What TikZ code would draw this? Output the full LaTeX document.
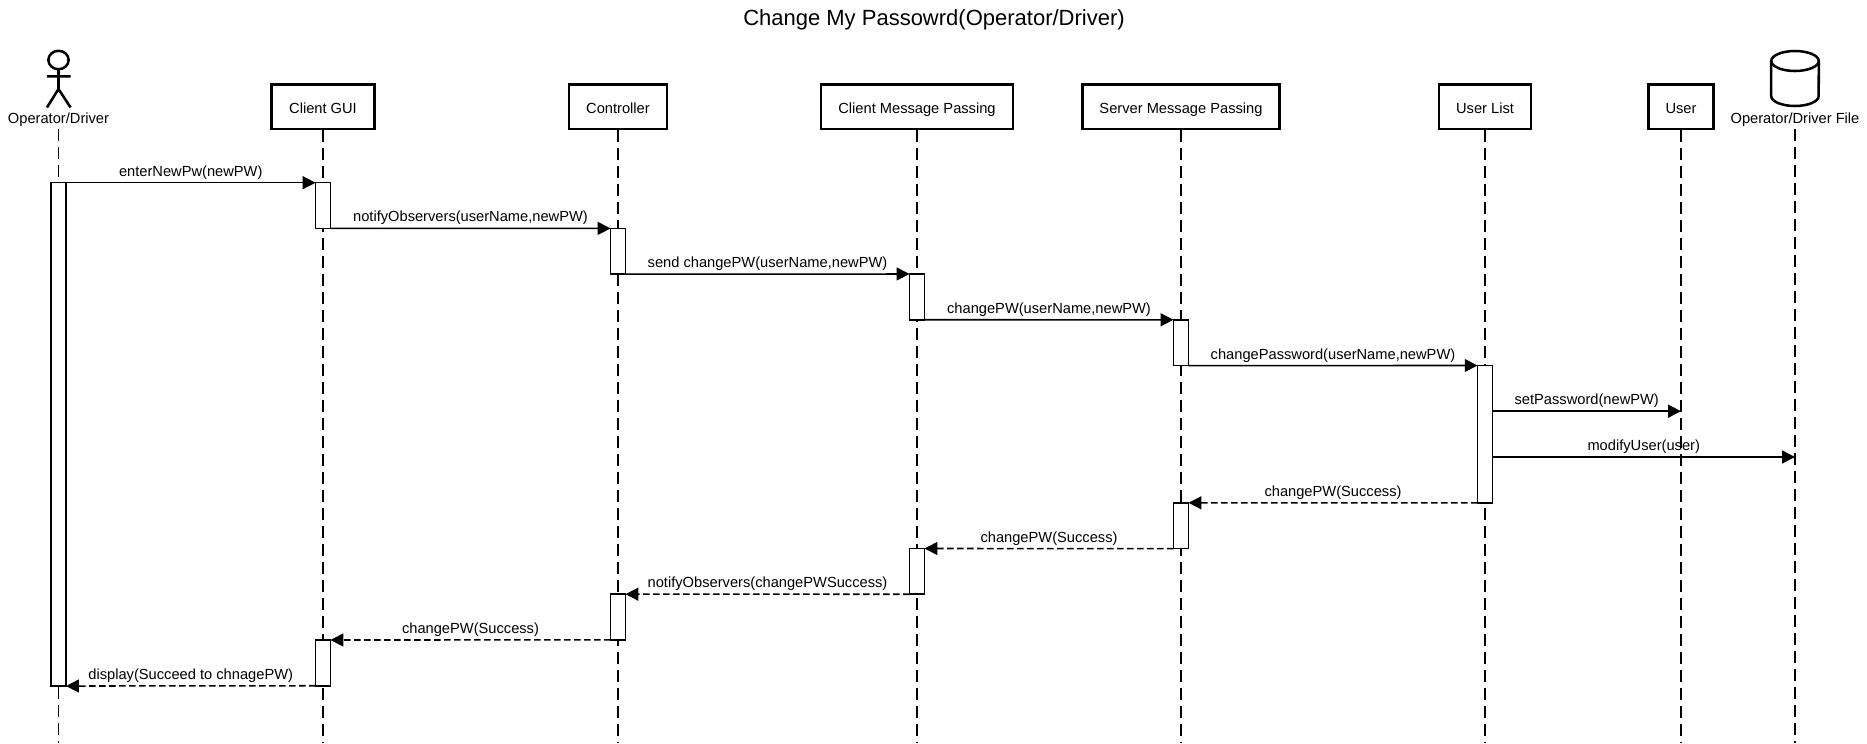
\documentclass[tikz,border=0pt]{standalone}
\usepackage{fontspec}
\setmainfont{Liberation Sans}
\usetikzlibrary{arrows.meta,calc,positioning}
\tikzset{%
	object/.style   = {draw, rectangle, line width=2.1pt, minimum height=33.5pt, inner sep=0pt, text height=10pt, text depth=0pt, font=\fontsize{11}{12}\selectfont}, % Class box
	caption/.style  = {rectangle, inner sep=0pt, minimum height=15pt, text height=8.5pt, text depth=1.7pt, font=\fontsize{11}{12}\selectfont}, % Actor, file
	figure/.style   = {line width=1.9pt},
	lifeline/.style = {line width=1.15pt, dash pattern=on 9pt off 4.5pt},
	bar/.style      = {draw, fill=white, rectangle, line width=1.15pt, minimum width=11.2pt, minimum height=34.3pt, inner sep=0pt, outer sep=0pt, anchor=north},
	call/.style     = {line width=1.15pt, -{Triangle[length=9.6pt,width=9.6pt]}},
	return/.style   = {call, dash pattern=on 4.9pt off 2.6pt},
	msg/.style      = {above, inner sep=1pt, yshift=1pt, font=\fontsize{11}{12}\selectfont},
}
\begin{document}
\begin{tikzpicture}[x=0.75pt,y=-0.75pt]
	\useasboundingbox (0,0) rectangle (1867,743);
	\node [font=\fontsize{16.5}{18}\selectfont] (title) at (934,19.5) {Change My Passowrd(Operator/Driver)};

	\node [caption] (op) at (58.5,119) {Operator/Driver};
	\node [object,minimum width=77pt] (gui) at (323,106.7) {Client GUI};
	\node [object,minimum width=73.5pt] (ctrl) at (618,106.7) {Controller};
	\node [object,minimum width=144pt] (cmp) at (917,106.7) {Client Message Passing};
	\node [object,minimum width=148pt] (smp) at (1181,106.7) {Server Message Passing};
	\node [object,minimum width=69pt] (list) at (1485,106.7) {User List};
	\node [object,minimum width=49pt] (user) at (1681,106.7) {User};
	\node [caption] (file) at (1795,119) {Operator/Driver File};

	% actor
	\draw[figure] (58.5,60) ellipse [x radius=7.6pt,y radius=6.9pt];
	\draw[figure] (58.5,69.5) -- (58.5,89) (47,76.3) -- (70.6,76.3) (47,107.5) -- (58.5,89) -- (70.6,107.5);
	% database
	\draw[figure] (1795,61) ellipse [x radius=17.8pt,y radius=7.5pt];
	\draw[figure] (1771.2,61) -- (1771.2,96) arc[start angle=180,end angle=360,x radius=17.8pt,y radius=7.5pt] -- (1818.8,61);

	\coordinate (opend) at (58.5,743);
	\coordinate (guiend) at (323,743);
	\coordinate (ctrlend) at (618,743);
	\coordinate (cmpend) at (917,743);
	\coordinate (smpend) at (1181,743);
	\coordinate (listend) at (1485,743);
	\coordinate (userend) at (1681,743);
	\coordinate (fileend) at (1795,743);
	\draw[lifeline] (op) -- (opend);
	\draw[lifeline] (gui) -- (guiend);
	\draw[lifeline] (ctrl) -- (ctrlend);
	\draw[lifeline] (cmp) -- (cmpend);
	\draw[lifeline] (smp) -- (smpend);
	\draw[lifeline] (list) -- (listend);
	\draw[lifeline] (user) -- (userend);
	\draw[lifeline] (file) -- (fileend);

	\node [bar,minimum height=377.5pt] (opbar) at (58.5,182.7) {};
	\node [bar] (guia) at (323,182.7) {};
	\node [bar] (ctrla) at (618,228.4) {};
	\node [bar] (cmpa) at (917,274) {};
	\node [bar] (smpa) at (1181,319.8) {};
	\node [bar,minimum height=103pt] (lista) at (1485,365.5) {};
	\node [bar] (smpb) at (1181,502.8) {};
	\node [bar] (cmpb) at (917,548.5) {};
	\node [bar] (ctrlb) at (618,594.2) {};
	\node [bar] (guib) at (323,640) {};
	\coordinate (setpw) at (1681,411.2);
	\coordinate (modify) at (1795,457);

	\draw[call] (opbar.north east) -- node[msg] {enterNewPw(newPW)} (guia.north west);
	\draw[call] (guia.south east) -- node[msg] {notifyObservers(userName,newPW)} (ctrla.north west);
	\draw[call] (ctrla.south east) -- node[msg] {send changePW(userName,newPW)} (cmpa.north west);
	\draw[call] (cmpa.south east) -- node[msg] {changePW(userName,newPW)} (smpa.north west);
	\draw[call] (smpa.south east) -- node[msg] {changePassword(userName,newPW)} (lista.north west);
	\draw[call] (lista.east |- setpw) -- node[msg] {setPassword(newPW)} (setpw);
	\draw[call] (lista.east |- modify) -- node[msg] {modifyUser(user)} (modify);
	\draw[return] (lista.south west) -- node[msg] {changePW(Success)} (smpb.north east);
	\draw[return] (smpb.south west) -- node[msg] {changePW(Success)} (cmpb.north east);
	\draw[return] (cmpb.south west) -- node[msg] {notifyObservers(changePWSuccess)} (ctrlb.north east);
	\draw[return] (ctrlb.south west) -- node[msg] {changePW(Success)} (guib.north east);
	\draw[return] (guib.south west) -- node[msg] {display(Succeed to chnagePW)} (opbar.south east);
\end{tikzpicture}
\end{document}
